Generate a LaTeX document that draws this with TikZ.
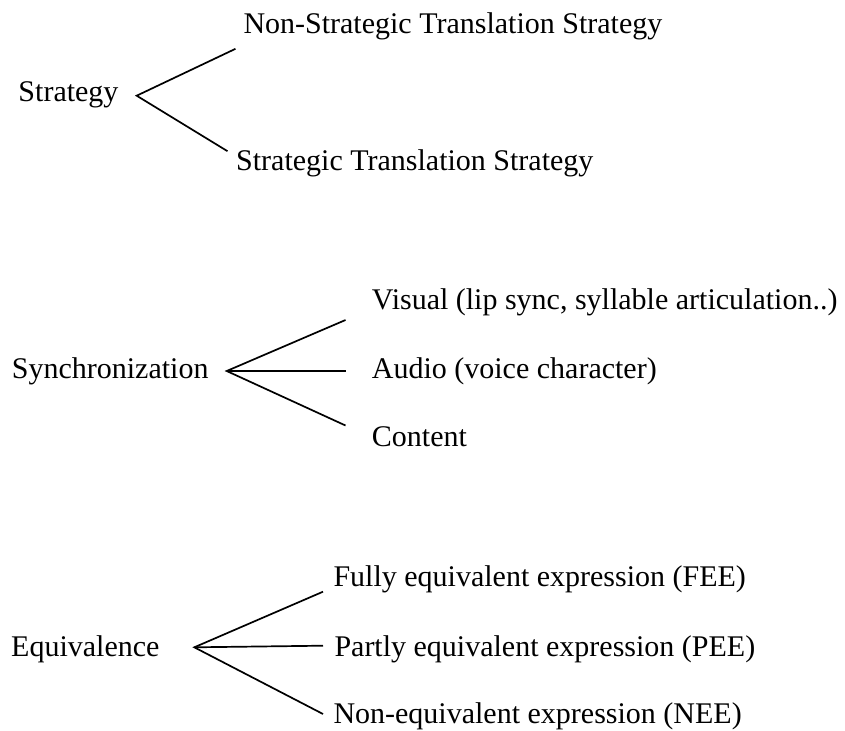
\documentclass[tikz,border=0pt]{standalone}
\usepackage{fontspec}
\setmainfont{Liberation Serif}
\begin{document}
\begin{tikzpicture}[x=1bp,y=-1bp,
  lbl/.style={anchor=base west,inner sep=0pt,font=\fontsize{30bp}{36bp}\selectfont},
  br/.style={line width=1.7bp,line cap=butt}]
\useasboundingbox (0,0) rectangle (845,731);
% Strategy group
\node[lbl] (strat) at (18.3,101.7) {Strategy};
\node[lbl] (nst) at (243.3,33.3) {Non-Strategic Translation Strategy};
\node[lbl] (sts) at (236,170) {Strategic Translation Strategy};
\coordinate (sa) at (136.7,95.7);
\coordinate (s1) at (235.5,48.8);
\coordinate (s2) at (227.5,151.2);
\draw[br] (s1) -- (sa) -- (s2);
% Synchronization group
\node[lbl] (sync) at (11.7,378.3) {Synchronization};
\node[lbl] (vis) at (371.7,309.3) {Visual (lip sync, syllable articulation..)};
\node[lbl] (aud) at (371.7,378.3) {Audio (voice character)};
\node[lbl] (con) at (371.7,446.7) {Content};
\coordinate (ya) at (226.7,371);
\coordinate (y1) at (345.5,320);
\coordinate (y2) at (345.5,371);
\coordinate (y3) at (345.5,425.5);
\draw[br] (y1) -- (ya) -- (y3);
\draw[br] (ya) -- (y2);
% Equivalence group
\node[lbl] (eq) at (11,656) {Equivalence};
\node[lbl] (fee) at (333.3,586.7) {Fully equivalent expression (FEE)};
\node[lbl] (pee) at (334.3,656) {Partly equivalent expression (PEE)};
\node[lbl] (nee) at (333.3,723.3) {Non-equivalent expression (NEE)};
\coordinate (ea) at (194.3,647.3);
\coordinate (e1) at (323,591.7);
\coordinate (e2) at (323,645.7);
\coordinate (e3) at (323,714);
\draw[br] (e1) -- (ea) -- (e3);
\draw[br] (ea) -- (e2);
\end{tikzpicture}
\end{document}
